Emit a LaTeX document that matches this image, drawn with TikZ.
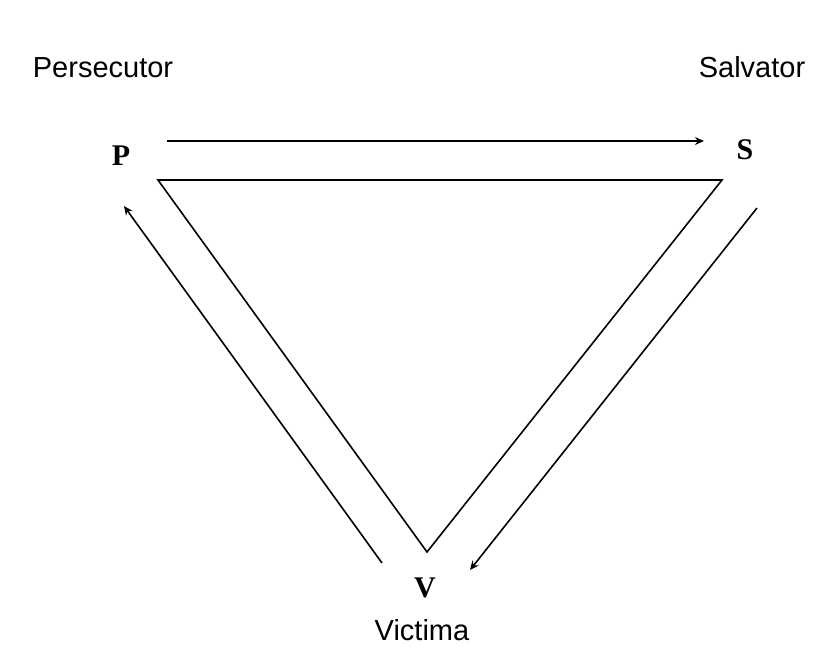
\documentclass[tikz,border=0pt]{standalone}
\usepackage{fontspec}
\setmainfont{Liberation Serif}
\setsansfont{Liberation Sans}
\usetikzlibrary{arrows.meta}
\begin{document}
\begin{tikzpicture}[x=1pt,y=-1pt,
  role/.style={font=\sffamily\fontsize{29}{32}\selectfont, inner sep=0pt, anchor=base},
  letter/.style={font=\rmfamily\bfseries\fontsize{30}{33}\selectfont, inner sep=0pt, anchor=base},
  edge/.style={line width=1.6pt, black},
  arr/.style={edge, -{Stealth[length=9pt,width=8pt]}}]
\useasboundingbox (0,0) rectangle (838,655);
% labels
\node[role] (pers) at (103,78) {Persecutor};
\node[role] (salv) at (752,78) {Salvator};
\node[role] (vict) at (422,640) {Victima};
\node[letter] (P) at (121,166) {P};
\node[letter] (S) at (745,160) {S};
\node[letter] (V) at (425,597) {V};
% triangle
\coordinate (tl) at (158,180);
\coordinate (tr) at (722,180);
\coordinate (bt) at (427,552);
\draw[edge, line join=miter] (tl) -- (tr) -- (bt) -- cycle;
% arrows
\coordinate (a1s) at (167,141);
\coordinate (a1e) at (704,141);
\draw[arr] (a1s) -- (a1e);
\coordinate (a2s) at (382,563);
\coordinate (a2e) at (124,206);
\draw[arr] (a2s) -- (a2e);
\coordinate (a3s) at (757,208);
\coordinate (a3e) at (470,570);
\draw[arr] (a3s) -- (a3e);
\end{tikzpicture}
\end{document}
